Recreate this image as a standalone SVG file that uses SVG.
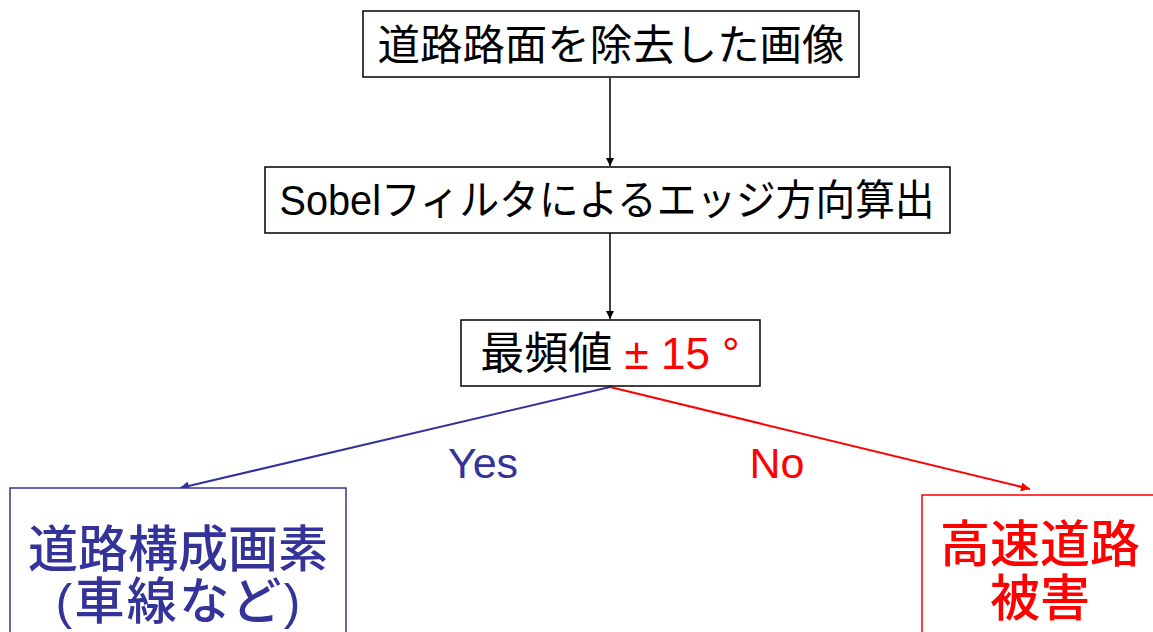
<svg xmlns="http://www.w3.org/2000/svg" width="1153" height="632" viewBox="0 0 1153 632">
<style>
text{font-family:"Liberation Sans","Noto Sans CJK JP",sans-serif;text-anchor:middle}
.box{fill:#fff;stroke:#000;stroke-width:1.5}
.t{font-size:42px;fill:#000}
.big{font-size:50px;font-weight:500}
</style>
<defs>
<marker id="ak" viewBox="0 0 10 10" refX="10" refY="5" markerWidth="8" markerHeight="8" markerUnits="userSpaceOnUse" orient="auto"><path d="M0,0L10,5L0,10z" fill="#000"/></marker>
<marker id="ab" viewBox="0 0 10 10" refX="10" refY="5" markerWidth="14" markerHeight="9" markerUnits="userSpaceOnUse" orient="auto"><path d="M0,0L10,5L0,10z" fill="#333399"/></marker>
<marker id="ar" viewBox="0 0 10 10" refX="10" refY="5" markerWidth="14" markerHeight="9" markerUnits="userSpaceOnUse" orient="auto"><path d="M0,0L10,5L0,10z" fill="#f00"/></marker>
</defs>
<g id="connectors">
<line x1="610" y1="78" x2="610" y2="166" stroke="#000" stroke-width="1.5" marker-end="url(#ak)"/>
<line x1="610" y1="233" x2="610" y2="319" stroke="#000" stroke-width="1.5" marker-end="url(#ak)"/>
<line x1="610" y1="387" x2="180" y2="488" stroke="#333399" stroke-width="2" marker-end="url(#ab)"/>
<line x1="610" y1="387" x2="1030" y2="489" stroke="#f00" stroke-width="2" marker-end="url(#ar)"/>
<text x="483" y="478" style="font-size:43px;fill:#333399">Yes</text>
<text x="777" y="478" style="font-size:43px;fill:#f00">No</text>
</g>
<g id="n1">
<rect class="box" x="363" y="11" width="496" height="66"/>
<text class="t" x="611" y="60" textLength="467" lengthAdjust="spacingAndGlyphs">道路路面を除去した画像</text>
</g>
<g id="n2">
<rect class="box" x="265" y="167" width="685" height="66"/>
<text class="t" x="607" y="215" textLength="655" lengthAdjust="spacingAndGlyphs">Sobelフィルタによるエッジ方向算出</text>
</g>
<g id="n3">
<rect class="box" x="461" y="320" width="299" height="66"/>
<text class="t" x="610" y="369" style="font-size:44px">最頻値<tspan fill="#f00"> ± 15 °</tspan></text>
</g>
<g id="n4">
<rect x="10" y="488" width="336" height="150" fill="#fff" stroke="#333399" stroke-width="1.5"/>
<text class="big" x="178" y="567" fill="#333399">道路構成画素</text>
<text class="big" x="178" y="619" fill="#333399" textLength="245" lengthAdjust="spacing">(車線など)</text>
</g>
<g id="n5">
<rect x="922" y="495" width="240" height="150" fill="#fff" stroke="#f00" stroke-width="1.5"/>
<text class="big" x="1040" y="562" fill="#f00">高速道路</text>
<text class="big" x="1040" y="616" fill="#f00">被害</text>
</g>
</svg>
